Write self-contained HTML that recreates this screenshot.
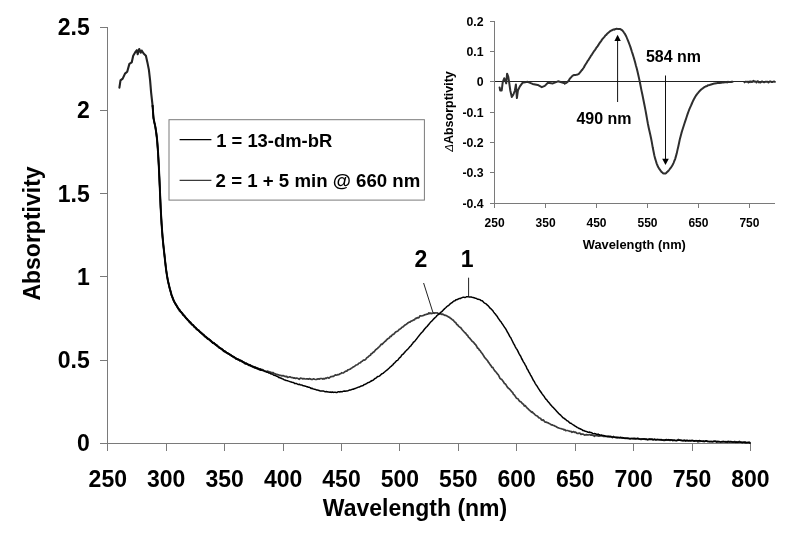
<!DOCTYPE html>
<html lang="en"><head><meta charset="utf-8"><title>Absorption spectra of 13-dm-bR</title>
<style>html,body{margin:0;padding:0;background:#fff}body{width:788px;height:535px;overflow:hidden}svg{display:block}text{font-family:"Liberation Sans",Arial,Helvetica,sans-serif;font-weight:bold;fill:#000}</style>
</head><body>
<svg width="788" height="535" viewBox="0 0 788 535">
<rect width="788" height="535" fill="#fff"/>
<g stroke="#7a7a7a" stroke-width="1" fill="none" shape-rendering="crispEdges">
<line x1="107.8" y1="27.3" x2="107.8" y2="443.3"/>
<line x1="107.8" y1="443.3" x2="750.4" y2="443.3"/>
<line x1="99.8" y1="443.3" x2="107.8" y2="443.3"/>
<line x1="99.8" y1="360.1" x2="107.8" y2="360.1"/>
<line x1="99.8" y1="276.9" x2="107.8" y2="276.9"/>
<line x1="99.8" y1="193.7" x2="107.8" y2="193.7"/>
<line x1="99.8" y1="110.5" x2="107.8" y2="110.5"/>
<line x1="99.8" y1="27.3" x2="107.8" y2="27.3"/>
<line x1="107.8" y1="443.3" x2="107.8" y2="450.8"/>
<line x1="166.2" y1="443.3" x2="166.2" y2="450.8"/>
<line x1="224.6" y1="443.3" x2="224.6" y2="450.8"/>
<line x1="283.1" y1="443.3" x2="283.1" y2="450.8"/>
<line x1="341.5" y1="443.3" x2="341.5" y2="450.8"/>
<line x1="399.9" y1="443.3" x2="399.9" y2="450.8"/>
<line x1="458.3" y1="443.3" x2="458.3" y2="450.8"/>
<line x1="516.7" y1="443.3" x2="516.7" y2="450.8"/>
<line x1="575.2" y1="443.3" x2="575.2" y2="450.8"/>
<line x1="633.6" y1="443.3" x2="633.6" y2="450.8"/>
<line x1="692.0" y1="443.3" x2="692.0" y2="450.8"/>
<line x1="750.4" y1="443.3" x2="750.4" y2="450.8"/>
</g>
<text transform="translate(89.7,451.2) scale(1.0,1)" font-size="23.0" text-anchor="end">0</text>
<text transform="translate(89.7,368.0) scale(1.0,1)" font-size="23.0" text-anchor="end">0.5</text>
<text transform="translate(89.7,284.8) scale(1.0,1)" font-size="23.0" text-anchor="end">1</text>
<text transform="translate(89.7,201.6) scale(1.0,1)" font-size="23.0" text-anchor="end">1.5</text>
<text transform="translate(89.7,118.4) scale(1.0,1)" font-size="23.0" text-anchor="end">2</text>
<text transform="translate(89.7,35.2) scale(1.0,1)" font-size="23.0" text-anchor="end">2.5</text>
<text transform="translate(107.8,486.8) scale(1.0,1)" font-size="23.0" text-anchor="middle">250</text>
<text transform="translate(166.2,486.8) scale(1.0,1)" font-size="23.0" text-anchor="middle">300</text>
<text transform="translate(224.6,486.8) scale(1.0,1)" font-size="23.0" text-anchor="middle">350</text>
<text transform="translate(283.1,486.8) scale(1.0,1)" font-size="23.0" text-anchor="middle">400</text>
<text transform="translate(341.5,486.8) scale(1.0,1)" font-size="23.0" text-anchor="middle">450</text>
<text transform="translate(399.9,486.8) scale(1.0,1)" font-size="23.0" text-anchor="middle">500</text>
<text transform="translate(458.3,486.8) scale(1.0,1)" font-size="23.0" text-anchor="middle">550</text>
<text transform="translate(516.7,486.8) scale(1.0,1)" font-size="23.0" text-anchor="middle">600</text>
<text transform="translate(575.2,486.8) scale(1.0,1)" font-size="23.0" text-anchor="middle">650</text>
<text transform="translate(633.6,486.8) scale(1.0,1)" font-size="23.0" text-anchor="middle">700</text>
<text transform="translate(692.0,486.8) scale(1.0,1)" font-size="23.0" text-anchor="middle">750</text>
<text transform="translate(750.4,486.8) scale(1.0,1)" font-size="23.0" text-anchor="middle">800</text>
<text transform="translate(415.0,515.7) scale(1.0,1)" font-size="23.0" text-anchor="middle">Wavelength (nm)</text>
<text transform="translate(39.7,233.5) rotate(-90) scale(1.0,1)" font-size="23.0" text-anchor="middle">Absorptivity</text>
<g fill="none" stroke-linejoin="round" stroke-linecap="round">
<path d="M119.4,87.6 L120.5,80.4 L122.7,78.6 L125.0,73.6 L127.2,71.7 L129.4,63.9 L131.7,62.4 L133.2,55.7 L135.4,52.0 L136.9,50.2 L137.7,54.2 L139.2,49.0 L140.7,52.7 L141.7,50.5 L143.6,53.5 L145.9,55.7 L147.4,62.4 L148.9,69.9 L150.1,80.4 L151.1,92.3 L152.6,105.8" stroke="#222" stroke-width="2.1"/>
<path d="M152.6,106.4 L153.5,118.0 L154.4,122.6 L155.3,127.1 L156.2,132.4 L157.1,139.7 L158.0,151.7 L158.9,167.5 L159.8,187.4 L160.7,208.1 L161.6,223.5 L162.5,236.3 L163.4,245.3 L164.3,253.7 L165.2,261.8 L166.1,269.7 L167.0,275.7 L167.9,280.9 L168.8,284.6 L169.7,288.4 L170.6,291.5 L171.5,295.2 L172.4,297.4 L173.3,299.4 L174.2,301.5 L175.1,303.3 L176.0,305.2 L176.9,305.9 L177.8,307.5 L178.7,309.0 L179.6,311.1 L180.5,311.7 L181.4,312.5 L182.3,313.8 L183.2,315.3 L184.1,315.6 L185.0,316.6 L185.9,318.2 L186.8,318.9 L187.7,320.0 L188.6,320.6 L189.5,322.3 L190.4,323.2 L191.3,323.8 L192.2,324.7 L193.1,324.8 L194.0,326.5 L194.9,327.1 L195.8,328.2 L196.7,329.1 L197.6,329.6 L198.5,330.0 L199.4,331.4 L200.3,331.9 L201.2,332.8 L202.1,333.5 L203.0,334.4 L203.9,334.5 L204.8,336.4 L205.7,336.9 L206.6,337.9 L207.5,338.9 L208.4,339.0 L209.3,339.2 L210.2,340.2 L211.1,340.8 L212.0,341.8 L212.9,342.7 L213.8,342.7 L214.7,344.1 L215.6,344.2 L216.5,345.5 L217.4,346.0 L218.3,346.6 L219.2,347.4 L220.1,347.9 L221.0,348.5 L221.9,348.8 L222.8,350.0 L223.7,351.2 L224.6,351.8 L225.5,352.2 L226.4,352.6 L227.3,352.8 L228.2,354.0 L229.1,354.1 L230.0,354.7 L230.9,355.2 L231.8,355.9 L232.7,356.2 L233.6,356.9 L234.5,357.1 L235.4,357.8 L236.3,359.2 L237.2,359.0 L238.1,359.4 L239.0,360.1 L239.9,360.7 L240.8,360.6 L241.7,361.3 L242.6,362.2 L243.5,362.4 L244.4,362.8 L245.3,363.7 L246.2,363.4 L247.1,364.1 L248.0,364.3 L248.9,365.4 L249.8,364.7 L250.7,365.5 L251.6,365.9 L252.5,366.6 L253.4,367.0 L254.3,367.6 L255.2,367.0 L256.1,368.1 L257.0,368.1 L257.9,368.3 L258.8,369.0 L259.7,368.9 L260.6,368.8 L261.5,369.6 L262.4,369.6 L263.3,370.1 L264.2,370.7 L265.1,371.0 L266.0,371.7 L266.9,371.3 L267.8,371.2 L268.7,371.7 L269.6,371.9 L270.5,372.0 L271.4,372.8 L272.3,372.7 L273.2,372.6 L274.1,373.7 L275.0,373.7 L275.9,374.1 L276.8,374.3 L277.7,374.7 L278.6,374.8 L279.5,375.4 L280.4,375.4 L281.3,375.6 L282.2,375.9 L283.1,375.5 L284.0,376.1 L284.9,376.3 L285.8,376.6 L286.7,376.3 L287.6,377.5 L288.5,377.2 L289.4,376.9 L290.3,376.9 L291.2,377.5 L292.1,377.7 L293.0,377.7 L293.9,378.1 L294.8,377.9 L295.7,378.4 L296.6,378.0 L297.5,378.3 L298.4,378.7 L299.3,379.3 L300.2,378.2 L301.1,378.4 L302.0,378.4 L302.9,379.0 L303.8,378.5 L304.7,378.8 L305.6,379.0 L306.5,378.8 L307.4,378.9 L308.3,379.1 L309.2,378.7 L310.1,378.9 L311.0,379.3 L311.9,379.4 L312.8,379.3 L313.7,378.8 L314.6,379.2 L315.5,379.5 L316.4,379.4 L317.3,379.1 L318.2,378.8 L319.1,379.2 L320.0,378.7 L320.9,378.5 L321.8,378.5 L322.7,379.1 L323.6,378.6 L324.5,378.8 L325.4,378.1 L326.3,378.4 L327.2,377.7 L328.1,377.6 L329.0,378.2 L329.9,377.4 L330.8,376.7 L331.7,376.6 L332.6,376.4 L333.5,376.4 L334.4,375.6 L335.3,374.9 L336.2,375.1 L337.1,374.9 L338.0,374.6 L338.9,374.6 L339.8,373.9 L340.7,373.7 L341.6,372.7 L342.5,373.0 L343.4,373.0 L344.3,372.1 L345.2,371.5 L346.1,371.1 L347.0,371.1 L347.9,369.8 L348.8,369.6 L349.7,369.3 L350.6,368.9 L351.5,368.0 L352.4,367.7 L353.3,366.9 L354.2,366.5 L355.1,365.9 L356.0,365.0 L356.9,364.8 L357.8,364.5 L358.7,363.3 L359.6,363.0 L360.5,362.6 L361.4,361.5 L362.3,361.2 L363.2,360.2 L364.1,360.2 L365.0,359.9 L365.9,359.1 L366.8,357.7 L367.7,357.3 L368.6,356.4 L369.5,355.6 L370.4,355.3 L371.3,353.5 L372.2,353.5 L373.1,352.3 L374.0,351.9 L374.9,350.7 L375.8,349.6 L376.7,349.0 L377.6,348.4 L378.5,347.3 L379.4,346.6 L380.3,345.5 L381.2,344.2 L382.1,344.3 L383.0,343.4 L383.9,342.5 L384.8,341.6 L385.7,341.1 L386.6,339.8 L387.5,339.0 L388.4,338.3 L389.3,338.0 L390.2,336.4 L391.1,336.5 L392.0,335.1 L392.9,334.3 L393.8,334.3 L394.7,333.1 L395.6,332.0 L396.5,331.6 L397.4,331.3 L398.3,330.6 L399.2,329.4 L400.1,329.0 L401.0,328.4 L401.9,327.3 L402.8,327.0 L403.7,326.2 L404.6,325.3 L405.5,324.7 L406.4,324.2 L407.3,323.5 L408.2,322.7 L409.1,322.2 L410.0,322.1 L410.9,321.2 L411.8,320.9 L412.7,320.5 L413.6,319.8 L414.5,319.9 L415.4,318.4 L416.3,318.5 L417.2,317.7 L418.1,317.9 L419.0,317.5 L419.9,315.9 L420.8,315.8 L421.7,316.0 L422.6,315.7 L423.5,315.4 L424.4,314.9 L425.3,314.7 L426.2,314.5 L427.1,314.0 L428.0,314.1 L428.9,312.8 L429.8,313.6 L430.7,313.0 L431.6,313.6 L432.5,313.2 L433.4,312.9 L434.3,313.3 L435.2,312.9 L436.1,313.0 L437.0,312.8 L437.9,313.4 L438.8,313.7 L439.7,314.0 L440.6,313.7 L441.5,314.3 L442.4,314.1 L443.3,314.4 L444.2,314.9 L445.1,315.4 L446.0,315.4 L446.9,315.9 L447.8,316.5 L448.7,317.1 L449.6,317.3 L450.5,318.5 L451.4,318.7 L452.3,319.7 L453.2,320.1 L454.1,321.3 L455.0,322.2 L455.9,322.8 L456.8,324.5 L457.7,324.9 L458.6,326.3 L459.5,326.9 L460.4,327.4 L461.3,328.4 L462.2,329.7 L463.1,330.7 L464.0,331.7 L464.9,332.7 L465.8,333.3 L466.7,334.9 L467.6,335.3 L468.5,337.2 L469.4,337.9 L470.3,338.9 L471.2,340.1 L472.1,341.3 L473.0,341.8 L473.9,342.7 L474.8,344.0 L475.7,344.7 L476.6,346.2 L477.5,348.1 L478.4,348.3 L479.3,350.0 L480.2,350.6 L481.1,352.3 L482.0,353.3 L482.9,354.6 L483.8,356.0 L484.7,357.6 L485.6,358.4 L486.5,359.6 L487.4,360.4 L488.3,362.1 L489.2,363.1 L490.1,364.6 L491.0,365.6 L491.9,367.3 L492.8,367.4 L493.7,369.1 L494.6,370.7 L495.5,371.5 L496.4,372.5 L497.3,373.9 L498.2,374.7 L499.1,376.4 L500.0,378.3 L500.9,379.0 L501.8,379.5 L502.7,380.7 L503.6,382.0 L504.5,383.6 L505.4,384.1 L506.3,385.3 L507.2,386.9 L508.1,388.0 L509.0,388.7 L509.9,389.5 L510.8,390.5 L511.7,391.8 L512.6,392.4 L513.5,394.4 L514.4,395.0 L515.3,396.4 L516.2,397.8 L517.1,398.5 L518.0,398.8 L518.9,400.4 L519.8,401.4 L520.7,401.7 L521.6,402.6 L522.5,403.7 L523.4,404.1 L524.3,406.0 L525.2,405.6 L526.1,406.8 L527.0,407.9 L527.9,408.7 L528.8,409.6 L529.7,410.5 L530.6,411.1 L531.5,412.3 L532.4,411.9 L533.3,413.3 L534.2,413.8 L535.1,414.8 L536.0,415.5 L536.9,415.8 L537.8,416.5 L538.7,417.6 L539.6,418.0 L540.5,418.3 L541.4,419.8 L542.3,420.4 L543.2,419.8 L544.1,420.9 L545.0,422.1 L545.9,422.1 L546.8,422.4 L547.7,422.7 L548.6,423.1 L549.5,423.7 L550.4,424.0 L551.3,424.9 L552.2,424.9 L553.1,425.3 L554.0,425.5 L554.9,426.2 L555.8,426.4 L556.7,427.0 L557.6,427.7 L558.5,427.8 L559.4,428.2 L560.3,428.5 L561.2,428.7 L562.1,429.0 L563.0,429.2 L563.9,429.9 L564.8,429.6 L565.7,430.6 L566.6,430.5 L567.5,430.5 L568.4,430.8 L569.3,431.0 L570.2,431.5 L571.1,431.4 L572.0,432.3 L572.9,431.9 L573.8,431.6 L574.7,432.3 L575.6,432.1 L576.5,432.9 L577.4,433.4 L578.3,433.5 L579.2,433.0 L580.1,433.4 L581.0,434.4 L581.9,434.0 L582.8,434.1 L583.7,434.6 L584.6,435.1 L585.5,434.9 L586.4,434.6 L587.3,434.8 L588.2,435.0 L589.1,434.7 L590.0,434.7 L590.9,435.2 L591.8,434.9 L592.7,435.3 L593.6,435.5 L594.5,436.3 L595.4,435.3 L596.3,435.6 L597.2,435.7 L598.1,436.0 L599.0,436.2 L599.9,435.8 L600.8,435.8 L601.7,435.6 L602.6,435.9 L603.5,436.5 L604.4,436.4 L605.3,436.2 L606.2,436.5 L607.1,436.7 L608.0,436.9 L608.9,436.6 L609.8,436.8 L610.7,436.4 L611.6,436.7 L612.5,437.7 L613.4,436.5 L614.3,437.2 L615.2,437.4 L616.1,437.3 L617.0,437.2 L617.9,437.6 L618.8,437.6 L619.7,437.7 L620.6,437.2 L621.5,437.8 L622.4,437.7 L623.3,437.8 L624.2,438.1 L625.1,438.3 L626.0,438.5 L626.9,438.1 L627.8,438.6 L628.7,438.7 L629.6,438.8 L630.5,438.9 L631.4,438.5 L632.3,438.5 L633.2,438.9 L634.1,438.3 L635.0,438.8 L635.9,438.6 L636.8,438.7 L637.7,438.3 L638.6,438.6 L639.5,439.0 L640.4,439.3 L641.3,439.4 L642.2,439.1 L643.1,439.1 L644.0,438.9 L644.9,439.3 L645.8,439.2 L646.7,439.5 L647.6,439.9 L648.5,439.3 L649.4,438.9 L650.3,439.1 L651.2,439.0 L652.1,439.1 L653.0,439.9 L653.9,439.6 L654.8,439.1 L655.7,439.8 L656.6,440.0 L657.5,439.5 L658.4,439.5 L659.3,439.6 L660.2,439.8 L661.1,440.0 L662.0,440.2 L662.9,440.2 L663.8,440.3 L664.7,440.3 L665.6,440.2 L666.5,439.5 L667.4,440.0 L668.3,440.1 L669.2,439.9 L670.1,440.4 L671.0,440.0 L671.9,439.8 L672.8,440.6 L673.7,440.4 L674.6,440.3 L675.5,440.5 L676.4,440.6 L677.3,440.4 L678.2,439.5 L679.1,440.1 L680.0,440.2 L680.9,440.1 L681.8,440.5 L682.7,440.8 L683.6,440.3 L684.5,440.2 L685.4,441.2 L686.3,440.4 L687.2,440.2 L688.1,440.7 L689.0,440.8 L689.9,440.5 L690.8,441.0 L691.7,440.6 L692.6,440.5 L693.5,440.9 L694.4,441.1 L695.3,440.7 L696.2,441.0 L697.1,440.9 L698.0,441.9 L698.9,440.8 L699.8,441.5 L700.7,441.0 L701.6,441.0 L702.5,441.3 L703.4,441.4 L704.3,441.6 L705.2,441.3 L706.1,441.0 L707.0,441.1 L707.9,441.4 L708.8,441.5 L709.7,441.8 L710.6,441.5 L711.5,441.7 L712.4,441.9 L713.3,441.5 L714.2,441.0 L715.1,441.1 L716.0,441.0 L716.9,442.0 L717.8,441.3 L718.7,442.0 L719.6,441.8 L720.5,442.2 L721.4,442.0 L722.3,441.6 L723.2,441.6 L724.1,441.7 L725.0,441.8 L725.9,441.6 L726.8,441.8 L727.7,442.3 L728.6,441.3 L729.5,441.9 L730.4,441.6 L731.3,442.0 L732.2,442.2 L733.1,441.9 L734.0,442.2 L734.9,441.5 L735.8,442.4 L736.7,441.9 L737.6,442.3 L738.5,442.2 L739.4,441.3 L740.3,442.0 L741.2,442.3 L742.1,442.8 L743.0,442.4 L743.9,442.4 L744.8,441.9 L745.7,442.9 L746.6,443.0 L747.5,442.5 L748.4,442.5 L749.3,442.1 L750.0,442.9" stroke="#3a3a3a" stroke-width="1.7"/>
<path d="M152.6,105.8 L153.5,118.1 L154.4,122.5 L155.3,126.4 L156.2,132.3 L157.1,139.8 L158.0,151.6 L158.9,167.6 L159.8,187.6 L160.7,208.5 L161.6,224.1 L162.5,236.1 L163.4,245.6 L164.3,253.6 L165.2,261.8 L166.1,269.6 L167.0,275.6 L167.9,280.6 L168.8,284.5 L169.7,288.3 L170.6,291.5 L171.5,294.8 L172.4,297.2 L173.3,299.7 L174.2,301.6 L175.1,303.3 L176.0,304.5 L176.9,306.3 L177.8,307.8 L178.7,309.1 L179.6,310.0 L180.5,311.3 L181.4,312.3 L182.3,313.4 L183.2,314.8 L184.1,315.6 L185.0,316.7 L185.9,317.9 L186.8,318.7 L187.7,319.8 L188.6,320.8 L189.5,321.7 L190.4,322.4 L191.3,323.6 L192.2,324.7 L193.1,325.1 L194.0,326.4 L194.9,327.2 L195.8,327.9 L196.7,329.2 L197.6,329.8 L198.5,330.3 L199.4,331.3 L200.3,332.2 L201.2,332.9 L202.1,333.8 L203.0,334.5 L203.9,335.4 L204.8,336.3 L205.7,336.7 L206.6,337.6 L207.5,338.2 L208.4,339.1 L209.3,339.6 L210.2,340.4 L211.1,341.2 L212.0,342.1 L212.9,342.9 L213.8,343.1 L214.7,343.9 L215.6,344.8 L216.5,345.0 L217.4,346.0 L218.3,346.7 L219.2,347.6 L220.1,348.2 L221.0,348.6 L221.9,349.3 L222.8,349.9 L223.7,350.9 L224.6,351.1 L225.5,351.8 L226.4,352.5 L227.3,353.0 L228.2,353.5 L229.1,354.0 L230.0,354.7 L230.9,355.2 L231.8,356.0 L232.7,356.5 L233.6,356.9 L234.5,357.6 L235.4,357.9 L236.3,358.7 L237.2,359.0 L238.1,359.6 L239.0,359.7 L239.9,360.5 L240.8,360.6 L241.7,361.0 L242.6,361.8 L243.5,362.1 L244.4,362.8 L245.3,363.6 L246.2,363.5 L247.1,363.9 L248.0,364.5 L248.9,365.0 L249.8,365.3 L250.7,365.7 L251.6,366.2 L252.5,366.6 L253.4,366.7 L254.3,367.3 L255.2,367.7 L256.1,367.8 L257.0,368.4 L257.9,368.6 L258.8,369.3 L259.7,369.5 L260.6,369.9 L261.5,370.1" stroke="#111" stroke-width="2.0"/>
<path d="M152.6,105.8 L153.5,118.1 L154.4,122.5 L155.3,126.4 L156.2,132.3 L157.1,139.8 L158.0,151.6 L158.9,167.6 L159.8,187.6 L160.7,208.5 L161.6,224.1 L162.5,236.1 L163.4,245.6 L164.3,253.6 L165.2,261.8 L166.1,269.6 L167.0,275.6 L167.9,280.6 L168.8,284.5 L169.7,288.3 L170.6,291.5 L171.5,294.8 L172.4,297.2 L173.3,299.7 L174.2,301.6 L175.1,303.3 L176.0,304.5 L176.9,306.3 L177.8,307.8 L178.7,309.1 L179.6,310.0 L180.5,311.3 L181.4,312.3 L182.3,313.4 L183.2,314.8 L184.1,315.6 L185.0,316.7 L185.9,317.9 L186.8,318.7 L187.7,319.8 L188.6,320.8 L189.5,321.7 L190.4,322.4 L191.3,323.6 L192.2,324.7 L193.1,325.1 L194.0,326.4 L194.9,327.2 L195.8,327.9 L196.7,329.2 L197.6,329.8 L198.5,330.3 L199.4,331.3 L200.3,332.2 L201.2,332.9 L202.1,333.8 L203.0,334.5 L203.9,335.4 L204.8,336.3 L205.7,336.7 L206.6,337.6 L207.5,338.2 L208.4,339.1 L209.3,339.6 L210.2,340.4 L211.1,341.2 L212.0,342.1 L212.9,342.9 L213.8,343.1 L214.7,343.9 L215.6,344.8 L216.5,345.0 L217.4,346.0 L218.3,346.7 L219.2,347.6 L220.1,348.2 L221.0,348.6 L221.9,349.3 L222.8,349.9 L223.7,350.9 L224.6,351.1 L225.5,351.8 L226.4,352.5 L227.3,353.0 L228.2,353.5 L229.1,354.0 L230.0,354.7 L230.9,355.2 L231.8,356.0 L232.7,356.5 L233.6,356.9 L234.5,357.6 L235.4,357.9 L236.3,358.7 L237.2,359.0 L238.1,359.6 L239.0,359.7 L239.9,360.5 L240.8,360.6 L241.7,361.0 L242.6,361.8 L243.5,362.1 L244.4,362.8 L245.3,363.6 L246.2,363.5 L247.1,363.9 L248.0,364.5 L248.9,365.0 L249.8,365.3 L250.7,365.7 L251.6,366.2 L252.5,366.6 L253.4,366.7 L254.3,367.3 L255.2,367.7 L256.1,367.8 L257.0,368.4 L257.9,368.6 L258.8,369.3 L259.7,369.5 L260.6,369.9 L261.5,370.1 L262.4,370.5 L263.3,370.5 L264.2,371.0 L265.1,371.6 L266.0,371.5 L266.9,372.3 L267.8,372.2 L268.7,373.0 L269.6,373.0 L270.5,373.7 L271.4,373.9 L272.3,374.0 L273.2,374.8 L274.1,375.3 L275.0,375.4 L275.9,375.8 L276.8,376.3 L277.7,376.5 L278.6,377.4 L279.5,377.5 L280.4,378.0 L281.3,378.3 L282.2,378.7 L283.1,379.0 L284.0,379.8 L284.9,379.9 L285.8,380.4 L286.7,380.6 L287.6,380.7 L288.5,381.1 L289.4,381.4 L290.3,381.8 L291.2,382.0 L292.1,382.3 L293.0,382.4 L293.9,382.8 L294.8,383.6 L295.7,383.4 L296.6,383.6 L297.5,384.1 L298.4,384.6 L299.3,384.3 L300.2,384.7 L301.1,384.9 L302.0,385.0 L302.9,385.7 L303.8,385.8 L304.7,386.0 L305.6,386.2 L306.5,386.7 L307.4,386.8 L308.3,387.2 L309.2,387.3 L310.1,387.6 L311.0,388.4 L311.9,388.3 L312.8,388.7 L313.7,389.0 L314.6,389.2 L315.5,389.4 L316.4,389.9 L317.3,390.0 L318.2,390.2 L319.1,390.5 L320.0,390.9 L320.9,391.0 L321.8,391.1 L322.7,391.0 L323.6,391.0 L324.5,391.6 L325.4,391.7 L326.3,391.6 L327.2,391.8 L328.1,392.0 L329.0,392.1 L329.9,392.2 L330.8,392.0 L331.7,392.4 L332.6,392.0 L333.5,392.4 L334.4,392.3 L335.3,392.3 L336.2,392.5 L337.1,392.4 L338.0,391.8 L338.9,391.7 L339.8,392.0 L340.7,391.6 L341.6,391.7 L342.5,391.7 L343.4,391.2 L344.3,391.0 L345.2,391.3 L346.1,391.1 L347.0,390.9 L347.9,390.8 L348.8,390.4 L349.7,390.0 L350.6,390.0 L351.5,389.6 L352.4,389.2 L353.3,389.2 L354.2,388.8 L355.1,388.6 L356.0,388.1 L356.9,387.8 L357.8,387.4 L358.7,387.1 L359.6,386.9 L360.5,386.3 L361.4,386.1 L362.3,385.7 L363.2,385.6 L364.1,384.6 L365.0,384.5 L365.9,383.9 L366.8,383.5 L367.7,382.7 L368.6,382.4 L369.5,382.2 L370.4,381.5 L371.3,381.0 L372.2,380.5 L373.1,380.2 L374.0,379.4 L374.9,378.5 L375.8,378.2 L376.7,377.4 L377.6,376.5 L378.5,376.4 L379.4,376.1 L380.3,375.2 L381.2,374.4 L382.1,373.7 L383.0,373.4 L383.9,372.5 L384.8,371.8 L385.7,371.0 L386.6,370.3 L387.5,369.7 L388.4,368.8 L389.3,368.0 L390.2,367.0 L391.1,366.4 L392.0,365.4 L392.9,364.8 L393.8,363.5 L394.7,362.8 L395.6,361.9 L396.5,360.8 L397.4,360.4 L398.3,359.4 L399.2,358.1 L400.1,357.4 L401.0,356.4 L401.9,354.9 L402.8,354.4 L403.7,353.4 L404.6,352.5 L405.5,351.3 L406.4,350.5 L407.3,349.5 L408.2,348.7 L409.1,347.6 L410.0,346.5 L410.9,345.8 L411.8,344.4 L412.7,343.4 L413.6,342.0 L414.5,341.6 L415.4,340.4 L416.3,339.3 L417.2,338.1 L418.1,336.9 L419.0,335.8 L419.9,334.6 L420.8,333.5 L421.7,332.5 L422.6,331.7 L423.5,330.5 L424.4,329.3 L425.3,328.2 L426.2,327.2 L427.1,326.5 L428.0,325.3 L428.9,324.2 L429.8,323.1 L430.7,322.0 L431.6,321.2 L432.5,320.4 L433.4,319.3 L434.3,318.4 L435.2,317.5 L436.1,316.7 L437.0,315.5 L437.9,314.9 L438.8,314.0 L439.7,313.5 L440.6,312.4 L441.5,311.8 L442.4,311.1 L443.3,310.0 L444.2,309.1 L445.1,308.3 L446.0,307.5 L446.9,306.5 L447.8,305.9 L448.7,305.5 L449.6,304.4 L450.5,303.7 L451.4,302.9 L452.3,302.5 L453.2,301.5 L454.1,300.9 L455.0,300.8 L455.9,299.8 L456.8,299.7 L457.7,299.3 L458.6,298.8 L459.5,298.6 L460.4,298.6 L461.3,297.9 L462.2,297.6 L463.1,297.3 L464.0,297.3 L464.9,297.4 L465.8,297.2 L466.7,296.7 L467.6,296.7 L468.5,296.7 L469.4,296.9 L470.3,296.9 L471.2,297.1 L472.1,297.3 L473.0,297.4 L473.9,297.7 L474.8,298.0 L475.7,298.2 L476.6,298.7 L477.5,299.2 L478.4,299.3 L479.3,299.6 L480.2,299.7 L481.1,300.6 L482.0,300.7 L482.9,301.4 L483.8,302.5 L484.7,303.2 L485.6,303.7 L486.5,304.2 L487.4,305.2 L488.3,305.9 L489.2,307.0 L490.1,308.2 L491.0,308.8 L491.9,309.7 L492.8,310.7 L493.7,312.1 L494.6,313.2 L495.5,314.2 L496.4,315.6 L497.3,316.6 L498.2,318.2 L499.1,319.4 L500.0,320.7 L500.9,321.7 L501.8,323.2 L502.7,324.4 L503.6,325.8 L504.5,327.2 L505.4,328.4 L506.3,329.9 L507.2,331.8 L508.1,333.1 L509.0,334.8 L509.9,336.6 L510.8,337.8 L511.7,339.7 L512.6,341.5 L513.5,343.3 L514.4,344.9 L515.3,346.8 L516.2,348.3 L517.1,349.7 L518.0,351.4 L518.9,353.4 L519.8,355.0 L520.7,356.2 L521.6,358.5 L522.5,360.0 L523.4,361.8 L524.3,363.2 L525.2,364.8 L526.1,366.3 L527.0,368.7 L527.9,369.9 L528.8,371.9 L529.7,373.2 L530.6,375.1 L531.5,376.5 L532.4,378.3 L533.3,380.2 L534.2,381.4 L535.1,383.3 L536.0,384.7 L536.9,385.9 L537.8,387.4 L538.7,388.8 L539.6,390.2 L540.5,391.5 L541.4,392.8 L542.3,394.1 L543.2,395.3 L544.1,396.4 L545.0,397.9 L545.9,399.2 L546.8,399.9 L547.7,401.2 L548.6,402.2 L549.5,403.2 L550.4,404.6 L551.3,405.3 L552.2,406.7 L553.1,407.3 L554.0,408.4 L554.9,409.3 L555.8,410.2 L556.7,411.4 L557.6,412.2 L558.5,413.3 L559.4,414.1 L560.3,414.8 L561.2,415.8 L562.1,416.7 L563.0,417.7 L563.9,418.1 L564.8,419.0 L565.7,419.4 L566.6,420.5 L567.5,420.9 L568.4,421.4 L569.3,422.4 L570.2,423.2 L571.1,423.3 L572.0,424.0 L572.9,424.6 L573.8,425.1 L574.7,425.9 L575.6,426.3 L576.5,426.9 L577.4,427.6 L578.3,427.9 L579.2,428.6 L580.1,428.8 L581.0,429.2 L581.9,429.6 L582.8,430.6 L583.7,430.5 L584.6,431.0 L585.5,431.2 L586.4,431.6 L587.3,431.8 L588.2,432.4 L589.1,432.1 L590.0,432.3 L590.9,432.6 L591.8,432.8 L592.7,433.4 L593.6,433.7 L594.5,433.6 L595.4,433.7 L596.3,434.1 L597.2,434.6 L598.1,434.1 L599.0,434.9 L599.9,434.8 L600.8,435.3 L601.7,435.1 L602.6,435.5 L603.5,435.4 L604.4,435.7 L605.3,436.2 L606.2,436.3 L607.1,436.2 L608.0,436.3 L608.9,436.2 L609.8,436.6 L610.7,436.8 L611.6,436.9 L612.5,437.0 L613.4,436.9 L614.3,437.2 L615.2,437.3 L616.1,437.6 L617.0,437.8 L617.9,437.5 L618.8,437.5 L619.7,437.7 L620.6,437.7 L621.5,437.7 L622.4,437.9 L623.3,437.8 L624.2,438.2 L625.1,438.1 L626.0,438.2 L626.9,438.2 L627.8,438.2 L628.7,438.2 L629.6,438.4 L630.5,438.4 L631.4,438.6 L632.3,438.6 L633.2,438.4 L634.1,438.7 L635.0,438.5 L635.9,438.7 L636.8,438.8 L637.7,438.5 L638.6,438.9 L639.5,439.0 L640.4,439.0 L641.3,439.0 L642.2,439.0 L643.1,439.0 L644.0,439.1 L644.9,439.1 L645.8,439.3 L646.7,439.1 L647.6,439.4 L648.5,439.4 L649.4,439.4 L650.3,439.3 L651.2,439.5 L652.1,439.2 L653.0,439.6 L653.9,439.6 L654.8,439.6 L655.7,439.7 L656.6,439.5 L657.5,439.6 L658.4,439.8 L659.3,439.8 L660.2,439.8 L661.1,439.5 L662.0,439.9 L662.9,440.1 L663.8,440.1 L664.7,440.0 L665.6,439.7 L666.5,440.1 L667.4,440.0 L668.3,439.6 L669.2,440.1 L670.1,439.8 L671.0,439.9 L671.9,440.0 L672.8,440.4 L673.7,440.1 L674.6,440.3 L675.5,440.6 L676.4,440.6 L677.3,440.3 L678.2,440.3 L679.1,440.1 L680.0,440.3 L680.9,440.5 L681.8,440.5 L682.7,440.5 L683.6,440.7 L684.5,440.4 L685.4,440.5 L686.3,440.7 L687.2,440.7 L688.1,440.8 L689.0,440.7 L689.9,440.6 L690.8,440.8 L691.7,440.6 L692.6,440.5 L693.5,440.9 L694.4,440.8 L695.3,440.9 L696.2,440.6 L697.1,440.9 L698.0,440.8 L698.9,440.8 L699.8,440.6 L700.7,441.0 L701.6,441.2 L702.5,441.2 L703.4,441.0 L704.3,441.2 L705.2,441.3 L706.1,440.7 L707.0,441.2 L707.9,441.4 L708.8,441.4 L709.7,441.6 L710.6,441.6 L711.5,441.4 L712.4,441.5 L713.3,441.6 L714.2,441.4 L715.1,441.5 L716.0,441.7 L716.9,441.9 L717.8,441.5 L718.7,441.6 L719.6,441.6 L720.5,441.9 L721.4,441.6 L722.3,441.9 L723.2,441.5 L724.1,441.7 L725.0,441.7 L725.9,441.9 L726.8,442.0 L727.7,441.5 L728.6,441.7 L729.5,441.9 L730.4,441.8 L731.3,441.6 L732.2,442.1 L733.1,442.0 L734.0,442.1 L734.9,441.9 L735.8,442.2 L736.7,442.0 L737.6,442.3 L738.5,442.0 L739.4,442.0 L740.3,442.2 L741.2,442.1 L742.1,442.4 L743.0,442.3 L743.9,442.2 L744.8,442.4 L745.7,442.3 L746.6,442.6 L747.5,442.4 L748.4,442.4 L749.3,442.8 L750.0,443.0" stroke="#000" stroke-width="1.5"/>
</g>
<g stroke="#222" stroke-width="1" fill="none">
<line x1="468.6" y1="277.7" x2="468.6" y2="296.5"/>
<line x1="423.6" y1="283" x2="433" y2="312.7"/>
</g>
<text transform="translate(420.9,267.0) scale(1.0,1)" font-size="23.0" text-anchor="middle">2</text>
<text transform="translate(467.2,267.0) scale(1.0,1)" font-size="23.0" text-anchor="middle">1</text>
<rect x="169" y="119.7" width="255.4" height="80.4" fill="#fff" stroke="#7a7a7a" stroke-width="1"/>
<line x1="179.6" y1="139.6" x2="211.4" y2="139.6" stroke="#000" stroke-width="1.4"/>
<line x1="179.6" y1="180.4" x2="211.4" y2="180.4" stroke="#3a3a3a" stroke-width="1.2"/>
<text transform="translate(216.2,147.2) scale(1.045,1)" font-size="17.6" text-anchor="start">1 = 13-dm-bR</text>
<text transform="translate(215.6,187.4) scale(1.06,1)" font-size="17.6" text-anchor="start">2 = 1 + 5 min @ 660 nm</text>
<g stroke="#7a7a7a" stroke-width="1" fill="none" shape-rendering="crispEdges">
<line x1="494.6" y1="21.2" x2="494.6" y2="203.0"/>
<line x1="494.6" y1="203.0" x2="774.8" y2="203.0"/>
<line x1="490.3" y1="203.0" x2="494.6" y2="203.0"/>
<line x1="490.3" y1="172.7" x2="494.6" y2="172.7"/>
<line x1="490.3" y1="142.4" x2="494.6" y2="142.4"/>
<line x1="490.3" y1="112.1" x2="494.6" y2="112.1"/>
<line x1="490.3" y1="81.8" x2="494.6" y2="81.8"/>
<line x1="490.3" y1="51.5" x2="494.6" y2="51.5"/>
<line x1="490.3" y1="21.2" x2="494.6" y2="21.2"/>
<line x1="494.6" y1="203.0" x2="494.6" y2="208.0"/>
<line x1="545.6" y1="203.0" x2="545.6" y2="208.0"/>
<line x1="596.5" y1="203.0" x2="596.5" y2="208.0"/>
<line x1="647.5" y1="203.0" x2="647.5" y2="208.0"/>
<line x1="698.4" y1="203.0" x2="698.4" y2="208.0"/>
<line x1="749.4" y1="203.0" x2="749.4" y2="208.0"/>
</g>
<line x1="494.6" y1="81.8" x2="774.8" y2="81.8" stroke="#222" stroke-width="1" shape-rendering="crispEdges"/>
<text transform="translate(483.6,207.5) scale(1.0,1)" font-size="12.3" text-anchor="end">-0.4</text>
<text transform="translate(483.6,177.2) scale(1.0,1)" font-size="12.3" text-anchor="end">-0.3</text>
<text transform="translate(483.6,146.9) scale(1.0,1)" font-size="12.3" text-anchor="end">-0.2</text>
<text transform="translate(483.6,116.6) scale(1.0,1)" font-size="12.3" text-anchor="end">-0.1</text>
<text transform="translate(483.6,86.3) scale(1.0,1)" font-size="12.3" text-anchor="end">0</text>
<text transform="translate(483.6,56.0) scale(1.0,1)" font-size="12.3" text-anchor="end">0.1</text>
<text transform="translate(483.6,25.7) scale(1.0,1)" font-size="12.3" text-anchor="end">0.2</text>
<text transform="translate(494.6,227.4) scale(1.0,1)" font-size="12.0" text-anchor="middle">250</text>
<text transform="translate(545.6,227.4) scale(1.0,1)" font-size="12.0" text-anchor="middle">350</text>
<text transform="translate(596.5,227.4) scale(1.0,1)" font-size="12.0" text-anchor="middle">450</text>
<text transform="translate(647.5,227.4) scale(1.0,1)" font-size="12.0" text-anchor="middle">550</text>
<text transform="translate(698.4,227.4) scale(1.0,1)" font-size="12.0" text-anchor="middle">650</text>
<text transform="translate(749.4,227.4) scale(1.0,1)" font-size="12.0" text-anchor="middle">750</text>
<text transform="translate(634.3,248.7) scale(1.03,1)" font-size="12.5" text-anchor="middle">Wavelength (nm)</text>
<text transform="translate(452.7,111.5) rotate(-90) scale(1.0,1)" font-size="12.5" text-anchor="middle"><tspan font-weight="normal" font-style="italic" font-size="11.5">Δ</tspan>Absorptivity</text>
<path d="M499.6,87.4 L500.2,90.5 L501.7,90.5 L502.7,82.3 L504.2,78.3 L505.2,80.3 L506.2,83.4 L507.1,73.7 L508.3,76.8 L509.3,83.4 L510.3,90.5 L511.8,97.1 L513.4,94.5 L514.9,90.5 L515.9,84.4 L516.9,98.1 L517.9,90.5 L519.9,86.4 L522.5,82.8 L527.6,81.8 L532.6,83.9 L537.7,84.9 L541.8,87.2 L544.8,85.9 L547.9,82.8 L552.9,83.4 L558.0,81.3 L563.1,82.8 L564.7,83.3" fill="none" stroke="#2e2e2e" stroke-width="2.0" stroke-linejoin="round" stroke-linecap="round"/>
<path d="M564.7,83.6 L565.5,83.2 L566.3,82.9 L567.1,82.3 L567.9,81.5 L568.7,80.7 L569.5,79.2 L570.3,78.2 L571.1,77.3 L571.9,76.4 L572.7,75.6 L573.5,75.3 L574.3,75.0 L575.1,74.9 L575.9,74.9 L576.7,74.7 L577.5,74.5 L578.3,74.1 L579.1,73.6 L579.9,72.5 L580.7,71.6 L581.5,70.5 L582.3,69.7 L583.1,68.5 L583.9,67.5 L584.7,65.8 L585.5,64.5 L586.3,63.3 L587.1,61.9 L587.9,60.6 L588.7,59.6 L589.5,58.2 L590.3,56.9 L591.1,55.6 L591.9,54.6 L592.7,53.3 L593.5,52.0 L594.3,50.8 L595.1,49.8 L595.9,48.6 L596.7,47.3 L597.5,46.3 L598.3,45.2 L599.1,43.8 L599.9,42.7 L600.7,41.7 L601.5,40.4 L602.3,39.2 L603.1,38.3 L603.9,37.4 L604.7,36.6 L605.5,35.3 L606.3,34.9 L607.1,33.7 L607.9,33.1 L608.7,32.4 L609.5,31.8 L610.3,31.1 L611.1,30.6 L611.9,30.3 L612.7,29.8 L613.5,29.4 L614.3,29.7 L615.1,29.2 L615.9,29.1 L616.7,28.7 L617.5,28.9 L618.3,28.9 L619.1,29.0 L619.9,29.0 L620.7,29.2 L621.5,29.9 L622.3,30.4 L623.1,31.3 L623.9,32.5 L624.7,33.6 L625.5,35.0 L626.3,36.5 L627.1,38.5 L627.9,40.4 L628.7,42.3 L629.5,44.5 L630.3,46.6 L631.1,49.1 L631.9,51.7 L632.7,54.1 L633.5,56.8 L634.3,59.4 L635.1,62.3 L635.9,65.4 L636.7,68.2 L637.5,71.6 L638.3,75.0 L639.1,78.6 L639.9,82.3 L640.7,86.5 L641.5,90.6 L642.3,94.3 L643.1,98.2 L643.9,102.3 L644.7,106.2 L645.5,110.4 L646.3,114.8 L647.1,119.4 L647.9,123.8 L648.7,127.7 L649.5,131.3 L650.3,134.7 L651.1,138.5 L651.9,142.6 L652.7,147.3 L653.5,151.3 L654.3,155.2 L655.1,158.4 L655.9,161.0 L656.7,163.6 L657.5,165.5 L658.3,167.2 L659.1,168.6 L659.9,169.7 L660.7,170.8 L661.5,172.0 L662.3,172.4 L663.1,173.3 L663.9,173.5 L664.7,173.4 L665.5,173.6 L666.3,172.9 L667.1,172.0 L667.9,171.4 L668.7,170.5 L669.5,169.5 L670.3,168.3 L671.1,167.3 L671.9,166.1 L672.7,164.7 L673.5,163.1 L674.3,161.0 L675.1,159.1 L675.9,156.4 L676.7,153.6 L677.5,149.9 L678.3,146.5 L679.1,142.8 L679.9,138.9 L680.7,135.9 L681.5,132.9 L682.3,130.2 L683.1,127.7 L683.9,125.3 L684.7,122.8 L685.5,120.4 L686.3,118.0 L687.1,115.5 L687.9,113.1 L688.7,111.0 L689.5,108.9 L690.3,107.1 L691.1,105.4 L691.9,103.5 L692.7,101.7 L693.5,100.0 L694.3,98.4 L695.1,97.0 L695.9,95.7 L696.7,94.6 L697.5,93.5 L698.3,92.6 L699.1,91.6 L699.9,90.8 L700.7,89.9 L701.5,89.4 L702.3,88.6 L703.1,88.1 L703.9,87.4 L704.7,87.0 L705.5,86.5 L706.3,86.2 L707.1,86.0 L707.9,85.3 L708.7,85.3 L709.5,85.1 L710.3,84.7 L711.1,84.5 L711.9,84.3 L712.7,83.9 L713.5,83.8 L714.3,83.5 L715.1,83.4 L715.9,83.3 L716.7,83.2 L717.5,83.1 L718.3,83.0 L719.1,82.7 L719.9,83.0 L720.7,82.8 L721.5,82.7 L722.3,82.5 L723.1,82.4 L723.9,82.4 L724.7,82.3 L725.5,82.0 L726.3,82.2 L727.1,82.4 L727.9,81.8 L728.7,82.1 L729.5,82.0 L730.3,81.9 L731.1,82.0 L731.9,81.7 L732.5,81.8" fill="none" stroke="#2e2e2e" stroke-width="2.0" stroke-linejoin="round" stroke-linecap="round"/>
<path d="M744.5,82.4 L745.3,81.7 L746.1,81.6 L746.9,81.8 L747.7,81.6 L748.5,82.5 L749.3,81.4 L750.1,82.2 L750.9,81.3 L751.7,82.1 L752.5,81.8 L753.3,80.7 L754.1,81.8 L754.9,81.3 L755.7,81.6 L756.5,82.5 L757.3,81.3 L758.1,81.3 L758.9,82.4 L759.7,81.9 L760.5,82.5 L761.3,81.9 L762.1,81.4 L762.9,81.8 L763.7,82.3 L764.5,82.2 L765.3,81.8 L766.1,81.8 L766.9,81.8 L767.7,81.6 L768.5,82.6 L769.3,81.8 L770.1,81.3 L770.9,81.6 L771.7,82.1 L772.5,82.1 L773.3,81.7 L774.1,81.5 L774.9,81.8" fill="none" stroke="#2e2e2e" stroke-width="1.9" stroke-linejoin="round" stroke-linecap="round"/>
<g stroke="#111" stroke-width="1" fill="#000">
<line x1="617.6" y1="102" x2="617.6" y2="39"/>
<path d="M617.6,34.8 L620.8,41 L614.4,41 Z" stroke="none"/>
<line x1="665.5" y1="75.5" x2="665.5" y2="160"/>
<path d="M665.5,165 L668.8,158.7 L662.2,158.7 Z" stroke="none"/>
</g>
<text transform="translate(603.9,124.0) scale(1.025,1)" font-size="15.6" text-anchor="middle">490 nm</text>
<text transform="translate(673.4,61.6) scale(1.025,1)" font-size="15.6" text-anchor="middle">584 nm</text>
</svg>
</body></html>
